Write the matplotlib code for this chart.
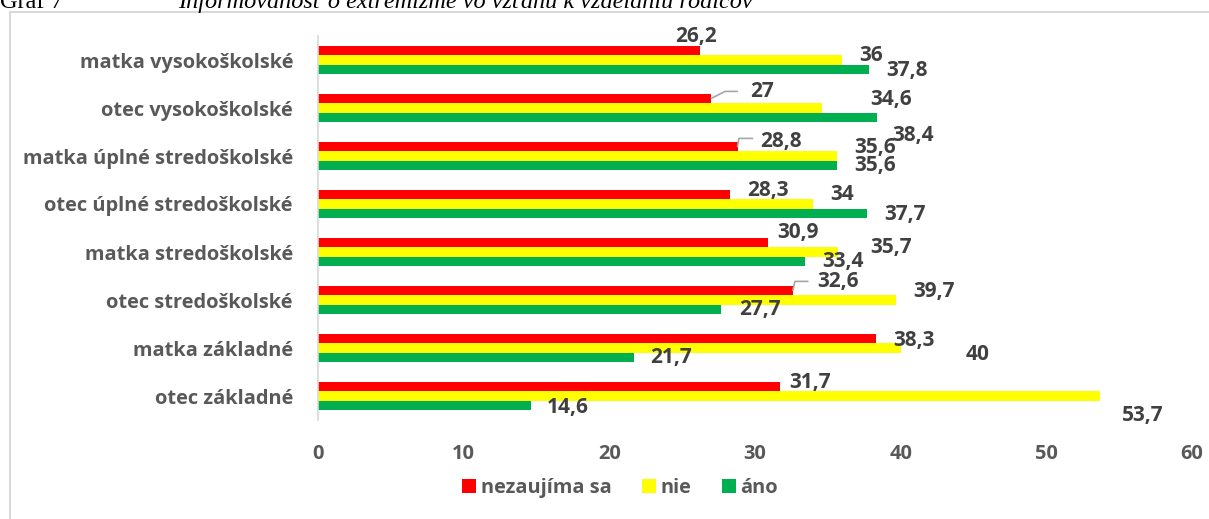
import matplotlib
matplotlib.use("Agg")
import matplotlib.pyplot as plt
from matplotlib.lines import Line2D
import numpy as np

# data, top to bottom as in the chart
categories = [
    "matka vysokoškolské",
    "otec vysokoškolské",
    "matka úplné stredoškolské",
    "otec úplné stredoškolské",
    "matka stredoškolské",
    "otec stredoškolské",
    "matka základné",
    "otec základné",
]
nezaujima_sa = [26.2, 27, 28.8, 28.3, 30.9, 32.6, 38.3, 31.7]
nie = [36, 34.6, 35.6, 34, 35.7, 39.7, 40, 53.7]
ano = [37.8, 38.4, 35.6, 37.7, 33.4, 27.7, 21.7, 14.6]
series_names = ["nezaujíma sa", "nie", "áno"]
x_ticks = [0, 10, 20, 30, 40, 50, 60]

# label offsets in pixels from bar end (dx, dy), per series and row
label_offsets = [
    [(-4, 14), (51, 7), (43, 5), (38, 4), (30, 10), (45, 9), (38, -2), (30, 4)],
    [(29, 5), (69, 9), (38, 9), (29, 9), (53, 4), (38, 9), (77, -7), (43, -19)],
    [(38, -1), (36, -18), (38, 0), (38, -1), (38, 0), (38, 0), (37, 0), (37, -2)],
]
# leader lines: (series, row) -> (end dx, end dy, angle)
leaders = {(0, 1): (26, 7, 27), (0, 2): (15, 8, 80), (0, 5): (15, 9, 77)}

colors = ["#FF0000", "#FFFF00", "#00B050"]
label_color = "#404040"
axis_color = "#595959"
font = "Open Sans"

fig = plt.figure(figsize=(12.09, 5.19), dpi=100)
ax = fig.add_axes([318 / 1209, 1 - 420 / 519, (1192 - 318) / 1209, 384 / 519])

y = np.arange(len(categories))
bar_h = 0.2
all_series = [nezaujima_sa, nie, ano]
for s, (vals, col, name) in enumerate(zip(all_series, colors, series_names)):
    ypos = y + (s - 1) * bar_h
    ax.barh(ypos, vals, height=bar_h, color=col, label=name)
    for i, v in enumerate(vals):
        dx, dy = label_offsets[s][i]
        ax.annotate(f"{v:g}".replace(".", ","), xy=(v, ypos[i]),
                    xytext=(dx, dy), textcoords="offset pixels",
                    ha="center", va="center", fontsize=15,
                    fontweight="bold", color=label_color, family=font)
        if (s, i) in leaders:
            ex, ey, ang = leaders[(s, i)]
            ax.annotate("", xy=(v, ypos[i]), xytext=(ex, ey),
                        textcoords="offset pixels",
                        arrowprops=dict(arrowstyle="-", color="#A6A6A6", lw=1.2,
                                        shrinkA=0, shrinkB=0,
                                        connectionstyle=f"angle,angleA=0,angleB={ang},rad=0"))

ax.set_xlim(0, 60)
ax.set_ylim(len(categories) - 0.5, -0.5)
ax.set_yticks(y)
ax.set_yticklabels(categories, fontsize=14.4, fontweight="bold", color=axis_color, family=font)
ax.set_xticks(x_ticks)
ax.set_xticklabels([str(t) for t in x_ticks], fontsize=14.4, fontweight="bold",
                   color=axis_color, family=font)
ax.tick_params(axis="y", length=0, pad=18)
ax.tick_params(axis="x", length=0, pad=17)
for side in ["top", "right", "bottom"]:
    ax.spines[side].set_visible(False)
ax.spines["left"].set_color("#D9D9D9")
ax.spines["left"].set_linewidth(1.2)

fig.legend(loc="center", bbox_to_anchor=(620 / 1209, 1 - 488 / 519), ncol=3,
           frameon=False, handlelength=0.7, handleheight=0.7, handletextpad=0.25,
           columnspacing=1.5, prop=dict(family=font, weight="bold", size=14.4),
           labelcolor=axis_color)

# chart border (top and left visible)
fig.add_artist(Line2D([9.5 / 1209, 1], [1 - 11.5 / 519, 1 - 11.5 / 519],
                      transform=fig.transFigure, color="#D9D9D9", lw=1.5))
fig.add_artist(Line2D([9.5 / 1209, 9.5 / 1209], [0, 1 - 11.5 / 519],
                      transform=fig.transFigure, color="#D9D9D9", lw=1.5))

# caption above the chart, cut off by the page edge
fig.text(0, 1 - 8 / 519, "Graf 7", fontsize=17.5, family="Liberation Serif",
         va="baseline", ha="left")
fig.text(178 / 1209, 1 - 8 / 519,
         "Informovanosť o extrémizme vo vzťahu k vzdelaniu rodičov",
         fontsize=17.5, family="Liberation Serif", style="italic",
         va="baseline", ha="left")

fig.savefig("out.png", dpi=100)
